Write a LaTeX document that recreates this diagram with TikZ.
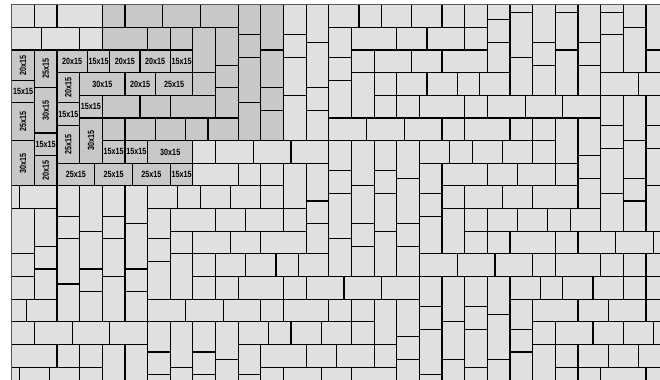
\documentclass[tikz,border=0pt]{standalone}
\usepackage{fontspec}
\newfontfamily\lblfont[FakeStretch=0.8]{Liberation Sans}
\definecolor{tileLight}{HTML}{E0E0E0}
\definecolor{tileGray}{HTML}{C8C8C8}
\tikzset{
 tileL/.style={draw=black, fill=tileLight, line width=0.85pt},
 tileG/.style={draw=black, fill=tileGray, line width=0.85pt},
 lbl/.style={font={\lblfont\bfseries\fontsize{6.4}{7}\selectfont}, inner sep=0pt},
 frameline/.style={draw=black!65, line width=0.85pt},
}
\newcommand\tlx[4]{\path[tileL] (#1,#2) rectangle (#3,#4);}
\newcommand\tgx[4]{\path[tileG] (#1,#2) rectangle (#3,#4);}
\newcommand\lhx[6]{\path[tileG] (#2,#3) rectangle (#4,#5); \node[lbl] (#1) at ({(#2+#4)/2},{(#3+#5)/2}) {#6};}
\newcommand\lvx[6]{\path[tileG] (#2,#3) rectangle (#4,#5); \node[lbl,rotate=90] (#1) at ({(#2+#4)/2},{(#3+#5)/2}) {#6};}
\begin{document}
\begin{tikzpicture}
\useasboundingbox (0,0) rectangle (16.5,-9.5);
\fill[white] (0,0) rectangle (16.5,-9.5);
\clip (0,0) rectangle (16.5,-9.5);
\begin{scope}[shift={(0.2925,-0.1175)}, x=0.18875cm, y=-0.18875cm]
\clip (0,0) rectangle (90,55);
\fill[tileLight] (0,0) rectangle (90,55);
% light, top-left
\tlx{0}{0}{3}{3} \tlx{3}{0}{6}{3} \tlx{6}{0}{12}{3} \tlx{0}{3}{4}{6} \tlx{4}{3}{9}{6} \tlx{9}{3}{12}{6}
% gray unlabeled
\tgx{12}{0}{15}{3} \tgx{15}{0}{20}{3} \tgx{20}{0}{25}{3} \tgx{25}{0}{30}{3}
\tgx{12}{3}{18}{6} \tgx{18}{3}{21}{6} \tgx{21}{3}{24}{6} \tgx{24}{3}{27}{9} \tgx{27}{3}{30}{8}
\tgx{24}{9}{27}{12} \tgx{27}{8}{30}{11} \tgx{27}{11}{30}{15}
\tgx{12}{12}{17}{15} \tgx{17}{12}{21}{15} \tgx{21}{12}{27}{15}
\tgx{12}{15}{15}{18} \tgx{15}{15}{19}{18} \tgx{19}{15}{23}{18} \tgx{23}{15}{26}{18} \tgx{26}{15}{30}{18}
\tgx{30}{0}{33}{4} \tgx{30}{4}{33}{7} \tgx{30}{7}{33}{13} \tgx{30}{13}{33}{18}
\tgx{33}{0}{36}{6} \tgx{33}{6}{36}{11} \tgx{33}{11}{36}{14} \tgx{33}{14}{36}{18}
% labelled
\lvx{a1}{0}{6}{3}{10}{20x15}
\lhx{a2}{0}{10}{3}{13}{15x15}
\lvx{a3}{0}{13}{3}{18}{25x15}
\lvx{a4}{0}{18}{3}{24}{30x15}
\lvx{a5}{3}{6}{6}{11}{25x15}
\lvx{a6}{3}{11}{6}{17}{30x15}
\lhx{a7}{3}{17}{6}{20}{15x15}
\lvx{a8}{3}{20}{6}{24}{20x15}
\lhx{a9}{6}{6}{10}{9}{20x15}
\lhx{a10}{10}{6}{13}{9}{15x15}
\lhx{a11}{13}{6}{17}{9}{20x15}
\lhx{a12}{17}{6}{21}{9}{20x15}
\lhx{a13}{21}{6}{24}{9}{15x15}
\lvx{a14}{6}{9}{9}{13}{20x15}
\lhx{a15}{9}{9}{15}{12}{30x15}
\lhx{a16}{15}{9}{19}{12}{20x15}
\lhx{a17}{19}{9}{24}{12}{25x15}
\lhx{a18}{6}{13}{9}{16}{15x15}
\lhx{a19}{9}{12}{12}{15}{15x15}
\lvx{a20}{6}{16}{9}{21}{25x15}
\lvx{a21}{9}{15}{12}{21}{30x15}
\lhx{a22}{12}{18}{15}{21}{15x15}
\lhx{a23}{15}{18}{18}{21}{15x15}
\lhx{a24}{18}{18}{24}{21}{30x15}
\lhx{a25}{6}{21}{11}{24}{25x15}
\lhx{a26}{11}{21}{16}{24}{25x15}
\lhx{a27}{16}{21}{21}{24}{25x15}
\lhx{a28}{21}{21}{24}{24}{15x15}
% light, upper middle
\tlx{36}{0}{39}{4} \tlx{36}{4}{39}{7} \tlx{36}{7}{39}{12} \tlx{36}{12}{39}{18}
\tlx{39}{0}{42}{5} \tlx{39}{5}{42}{11} \tlx{39}{11}{42}{14} \tlx{39}{14}{42}{18}
\tlx{42}{0}{46}{3} \tlx{46}{0}{49}{3} \tlx{49}{0}{53}{3}
\tlx{42}{3}{45}{7} \tlx{42}{7}{45}{10} \tlx{42}{10}{45}{15}
\tlx{45}{3}{51}{6} \tlx{45}{6}{48}{9} \tlx{48}{6}{53}{9} \tlx{45}{9}{48}{15}
\tlx{48}{9}{51}{12} \tlx{48}{12}{51}{15} \tlx{51}{12}{54}{15}
\tlx{42}{15}{47}{18} \tlx{47}{15}{52}{18}
\tlx{24}{18}{27}{21} \tlx{27}{18}{32}{21} \tlx{32}{18}{37}{21} \tlx{37}{18}{42}{21}
\tlx{42}{18}{45}{22} \tlx{45}{18}{48}{24} \tlx{48}{18}{51}{22} \tlx{51}{18}{54}{23}
\tlx{24}{21}{30}{24} \tlx{30}{21}{33}{24} \tlx{33}{21}{36}{24} \tlx{36}{21}{39}{27} \tlx{39}{21}{42}{26}
% light, upper right
\tlx{53}{0}{57}{3} \tlx{57}{0}{60}{3} \tlx{60}{0}{63}{3} \tlx{63}{-1}{66}{2}
\tlx{51}{3}{55}{6} \tlx{55}{3}{60}{6} \tlx{60}{3}{63}{6} \tlx{63}{2}{66}{5} \tlx{63}{5}{66}{9}
\tlx{53}{6}{57}{9} \tlx{57}{6}{63}{9}
\tlx{51}{9}{55}{12} \tlx{55}{9}{59}{12} \tlx{59}{9}{62}{12} \tlx{62}{9}{66}{12}
\tlx{66}{-2}{69}{1} \tlx{66}{1}{69}{7} \tlx{66}{7}{69}{12}
\tlx{69}{-1}{72}{5} \tlx{69}{5}{72}{8} \tlx{69}{8}{72}{12}
\tlx{72}{-2}{75}{1} \tlx{72}{1}{75}{6} \tlx{72}{6}{75}{12}
\tlx{75}{0}{78}{5} \tlx{75}{5}{78}{8} \tlx{75}{8}{78}{12}
\tlx{78}{-2}{81}{1} \tlx{78}{1}{81}{4} \tlx{78}{4}{81}{9}
\tlx{81}{0}{84}{3} \tlx{81}{3}{84}{9} \tlx{84}{0}{87}{6} \tlx{84}{6}{87}{9}
\tlx{78}{9}{83}{12} \tlx{83}{9}{88}{12}
\tlx{54}{12}{60}{15} \tlx{60}{12}{63}{15} \tlx{63}{12}{68}{15} \tlx{68}{12}{73}{15} \tlx{73}{12}{78}{15}
\tlx{78}{12}{81}{16} \tlx{78}{16}{81}{19} \tlx{78}{19}{81}{25}
\tlx{81}{12}{84}{18} \tlx{81}{18}{84}{23}
\tlx{84}{12}{87}{16} \tlx{84}{16}{87}{19} \tlx{84}{19}{87}{24}
\tlx{52}{15}{57}{18} \tlx{57}{15}{60}{18} \tlx{60}{15}{66}{18} \tlx{66}{15}{69}{18} \tlx{69}{15}{72}{18}
\tlx{72}{15}{75}{21} \tlx{75}{15}{78}{20} \tlx{75}{20}{78}{23}
\tlx{54}{18}{58}{21} \tlx{58}{18}{61}{21} \tlx{61}{18}{65}{21} \tlx{65}{18}{69}{21} \tlx{69}{18}{72}{21}
\tlx{54}{21}{57}{25} \tlx{57}{21}{63}{24} \tlx{63}{21}{67}{24} \tlx{67}{21}{72}{24} \tlx{72}{21}{75}{24}
% light, lower left
\tlx{-3}{24}{1}{27} \tlx{1}{24}{6}{27}
\tlx{6}{24}{9}{28} \tlx{6}{28}{9}{31} \tlx{6}{31}{9}{37} \tlx{6}{37}{9}{42}
\tlx{9}{24}{12}{30} \tlx{9}{30}{12}{35} \tlx{9}{35}{12}{38} \tlx{9}{38}{12}{42}
\tlx{12}{24}{15}{28} \tlx{12}{28}{15}{31} \tlx{12}{31}{15}{36} \tlx{12}{36}{15}{42}
\tlx{15}{24}{18}{29} \tlx{15}{29}{18}{35} \tlx{15}{35}{18}{38} \tlx{15}{38}{18}{42}
\tlx{18}{24}{22}{27} \tlx{22}{24}{25}{27}
\tlx{18}{27}{21}{31} \tlx{18}{31}{21}{34} \tlx{18}{34}{21}{39}
\tlx{21}{27}{27}{30} \tlx{21}{30}{24}{33} \tlx{21}{33}{24}{39}
\tlx{0}{27}{3}{33} \tlx{0}{33}{3}{36} \tlx{0}{36}{3}{39}
\tlx{3}{27}{6}{32} \tlx{3}{32}{6}{35} \tlx{3}{35}{6}{39}
\tlx{-2}{39}{2}{42} \tlx{2}{39}{6}{42} \tlx{18}{39}{23}{42}
\tlx{0}{42}{3}{45} \tlx{3}{42}{8}{45} \tlx{8}{42}{13}{45} \tlx{13}{42}{18}{45} \tlx{18}{42}{21}{46} \tlx{21}{42}{24}{48}
\tlx{0}{45}{6}{48} \tlx{6}{45}{9}{48} \tlx{9}{45}{12}{48} \tlx{12}{45}{15}{51} \tlx{15}{45}{18}{51}
\tlx{18}{46}{21}{49} \tlx{18}{49}{21}{52} \tlx{21}{48}{24}{51} \tlx{24}{46}{27}{49}
\tlx{-3}{48}{1}{51} \tlx{1}{48}{5}{51} \tlx{5}{48}{9}{51} \tlx{9}{48}{12}{51}
% light, lower middle
\tlx{25}{24}{29}{27} \tlx{29}{24}{33}{27} \tlx{33}{24}{36}{27} \tlx{39}{26}{42}{29} \tlx{39}{29}{42}{33}
\tlx{42}{22}{45}{25} \tlx{42}{25}{45}{31} \tlx{42}{31}{45}{36}
\tlx{45}{24}{48}{29} \tlx{45}{29}{48}{32} \tlx{45}{32}{48}{36}
\tlx{48}{22}{51}{25} \tlx{48}{25}{51}{30} \tlx{48}{30}{51}{36}
\tlx{51}{23}{54}{29} \tlx{51}{29}{54}{32} \tlx{51}{32}{54}{36}
\tlx{27}{27}{31}{30} \tlx{31}{27}{36}{30} \tlx{36}{27}{39}{30}
\tlx{24}{30}{29}{33} \tlx{29}{30}{33}{33} \tlx{33}{30}{39}{33}
\tlx{24}{33}{27}{36} \tlx{27}{33}{31}{36} \tlx{31}{33}{35}{36} \tlx{35}{33}{38}{36} \tlx{38}{33}{42}{36}
\tlx{24}{36}{27}{39} \tlx{27}{36}{30}{39} \tlx{30}{36}{36}{39} \tlx{36}{36}{39}{39} \tlx{39}{36}{44}{39} \tlx{44}{36}{49}{39} \tlx{49}{36}{54}{39}
\tlx{23}{39}{28}{42} \tlx{28}{39}{33}{42} \tlx{33}{39}{36}{42} \tlx{36}{39}{42}{42} \tlx{42}{39}{45}{42} \tlx{45}{39}{48}{42}
\tlx{48}{39}{51}{45} \tlx{51}{39}{54}{44} \tlx{51}{44}{54}{47} \tlx{51}{47}{54}{52}
\tlx{24}{42}{27}{46} \tlx{27}{42}{30}{47} \tlx{30}{42}{34}{45} \tlx{34}{42}{37}{45} \tlx{37}{42}{41}{45} \tlx{41}{42}{45}{45} \tlx{45}{42}{48}{45}
\tlx{30}{45}{33}{49} \tlx{33}{45}{39}{48} \tlx{39}{45}{43}{48} \tlx{43}{45}{48}{48} \tlx{48}{45}{51}{48}
\tlx{24}{49}{27}{52} \tlx{27}{47}{30}{52} \tlx{30}{49}{33}{52} \tlx{33}{48}{36}{51} \tlx{36}{48}{41}{51} \tlx{41}{48}{45}{51} \tlx{45}{48}{51}{51}
% light, lower right
\tlx{54}{25}{57}{28} \tlx{54}{28}{57}{33} \tlx{57}{24}{60}{27} \tlx{57}{27}{60}{33}
\tlx{60}{24}{65}{27} \tlx{65}{24}{69}{27} \tlx{69}{24}{75}{27} \tlx{75}{23}{78}{27} \tlx{78}{25}{81}{30}
\tlx{81}{23}{84}{26} \tlx{81}{26}{84}{30} \tlx{84}{24}{87}{30}
\tlx{60}{27}{63}{30} \tlx{63}{27}{67}{30} \tlx{67}{27}{71}{30} \tlx{71}{27}{74}{30} \tlx{74}{27}{78}{30}
\tlx{60}{30}{63}{33} \tlx{63}{30}{66}{33} \tlx{66}{30}{72}{33} \tlx{72}{30}{75}{33} \tlx{75}{30}{80}{33} \tlx{80}{30}{85}{33} \tlx{85}{30}{90}{33}
\tlx{54}{33}{59}{36} \tlx{59}{33}{64}{36} \tlx{64}{33}{69}{36} \tlx{69}{33}{72}{36} \tlx{72}{33}{78}{36} \tlx{78}{33}{81}{36} \tlx{81}{33}{84}{36} \tlx{84}{33}{87}{36}
\tlx{54}{36}{57}{40} \tlx{54}{40}{57}{43} \tlx{54}{43}{57}{49} \tlx{54}{49}{57}{52}
\tlx{57}{36}{60}{42} \tlx{57}{42}{60}{47} \tlx{57}{47}{60}{52}
\tlx{60}{36}{63}{40} \tlx{60}{40}{63}{43} \tlx{60}{43}{63}{48} \tlx{60}{48}{63}{51}
\tlx{63}{36}{66}{41} \tlx{63}{41}{66}{47} \tlx{63}{47}{66}{52}
\tlx{66}{36}{70}{39} \tlx{66}{39}{69}{43} \tlx{66}{43}{69}{46} \tlx{66}{46}{69}{51}
\tlx{70}{36}{73}{39} \tlx{73}{36}{77}{39} \tlx{77}{36}{81}{39} \tlx{81}{36}{84}{39} \tlx{84}{36}{87}{39}
\tlx{69}{39}{75}{42} \tlx{75}{39}{79}{42} \tlx{79}{39}{84}{42} \tlx{84}{39}{87}{42}
\tlx{69}{42}{72}{45} \tlx{72}{42}{77}{45} \tlx{77}{42}{81}{45} \tlx{81}{42}{85}{45} \tlx{85}{42}{88}{45}
\tlx{69}{45}{72}{51}
\tlx{72}{45}{75}{48} \tlx{75}{45}{79}{48} \tlx{79}{45}{83}{48} \tlx{83}{45}{88}{48}
\tlx{72}{48}{75}{51} \tlx{75}{48}{78}{51} \tlx{78}{48}{84}{51} \tlx{84}{48}{87}{51}
\end{scope}
\begin{scope}[shift={(0.2925,-0.1175)}, x=0.18875cm, y=-0.18875cm]
\coordinate (ftr) at (90,0);
\coordinate (ftl) at (0,0);
\coordinate (fbl) at (0,55);
\draw[frameline] (ftr) -- (ftl) -- (fbl);
\end{scope}
\end{tikzpicture}
\end{document}
